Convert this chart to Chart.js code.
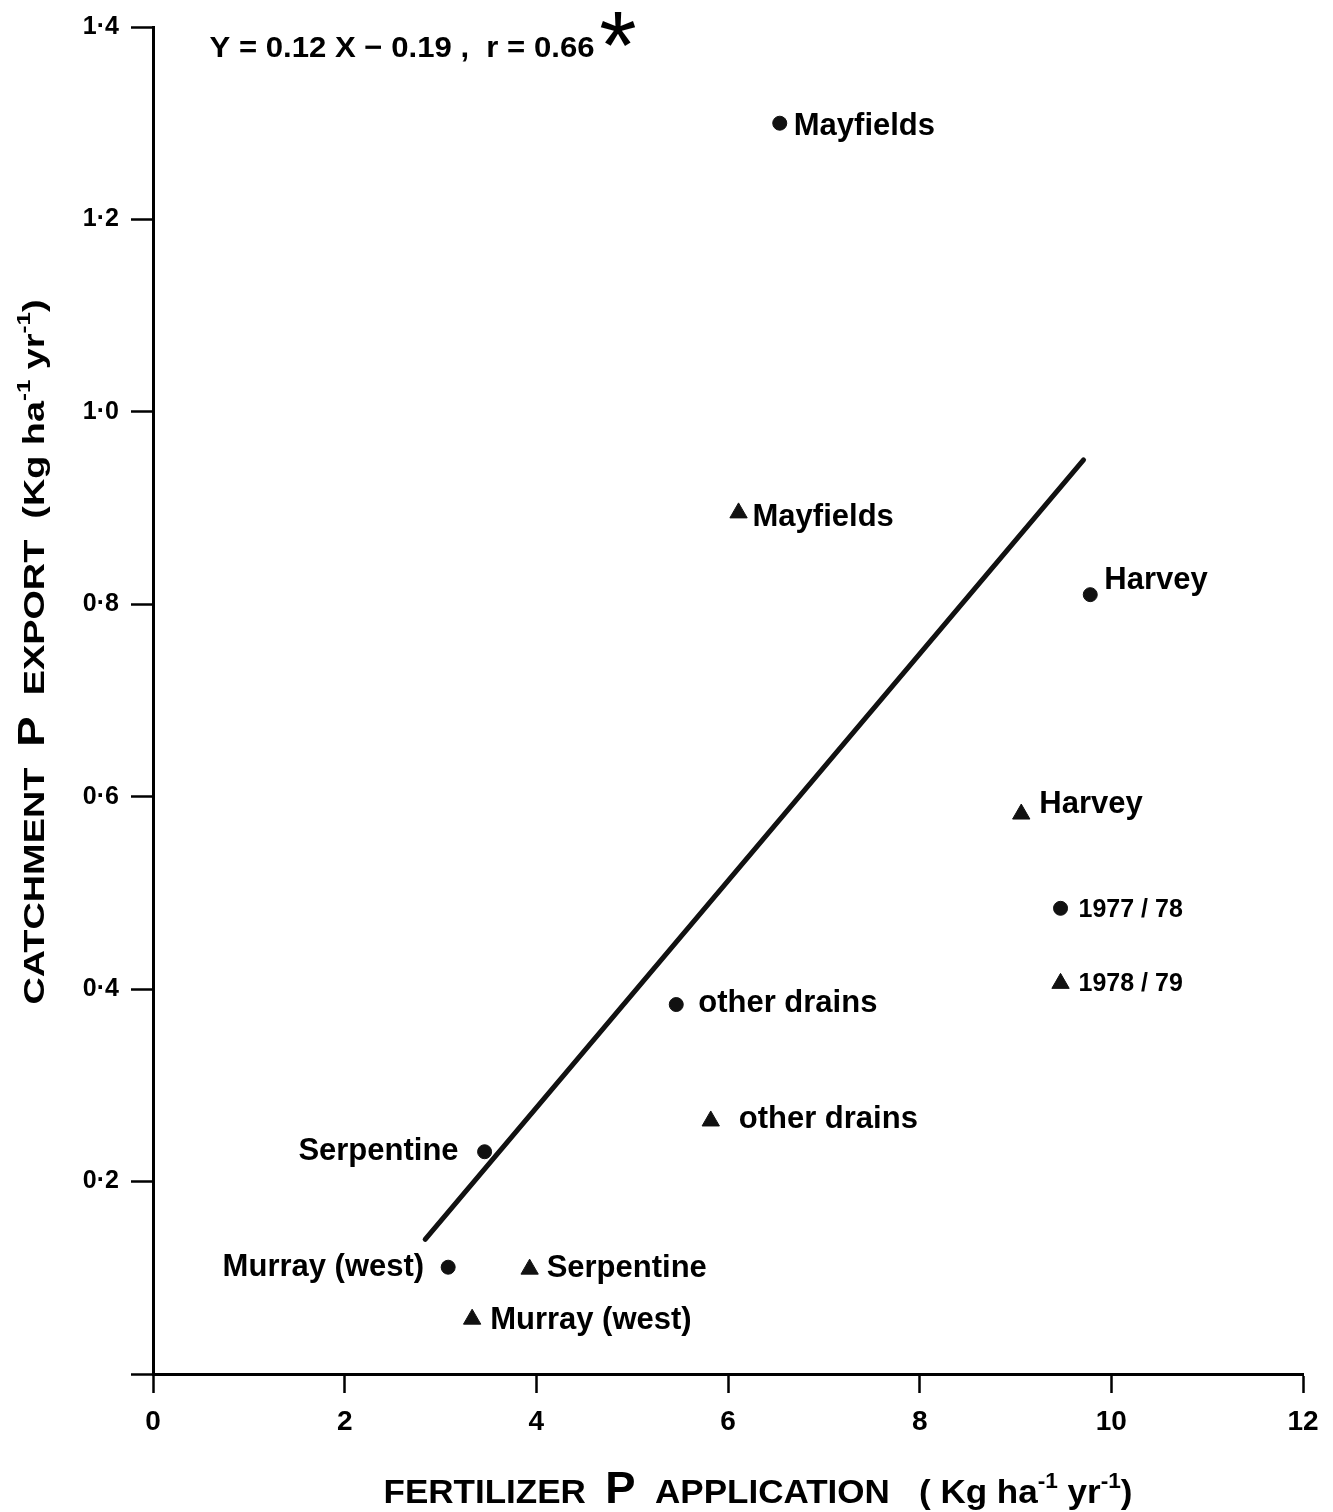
<!DOCTYPE html>
<html>
<head>
<meta charset="utf-8">
<script src="https://cdn.jsdelivr.net/npm/chart.js@4.4.1/dist/chart.umd.min.js"></script>
<style>
  html, body { margin: 0; padding: 0; background: #fff; }
  #wrap { width: 1333px; height: 1512px; position: relative; }
</style>
</head>
<body>
<div id="wrap"><canvas id="plot" width="1333" height="1512"></canvas></div>
<script>
// 1977/78 catchments (circles)
var circleNames = ['Mayfields', 'Harvey', '1977 / 78', 'other drains', 'Serpentine', 'Murray (west)']
var circleX = [6.54, 9.78, 9.47, 5.46, 3.46, 3.08]
var circleY = [1.30, 0.81, 0.484, 0.384, 0.231, 0.111]

// 1978/79 catchments (triangles)
var triNames = ['Mayfields', 'Harvey', '1978 / 79', 'other drains', 'Serpentine', 'Murray (west)']
var triX = [6.11, 9.06, 9.47, 5.82, 3.93, 3.33]
var triY = [0.895, 0.582, 0.406, 0.263, 0.109, 0.057]

// regression line ends as drawn
var fitX = [2.84, 9.71]
var fitY = [0.14, 0.95]

var xTicks = [0, 2, 4, 6, 8, 10, 12]
var yTicks = [0, 0.2, 0.4, 0.6, 0.8, 1.0, 1.2, 1.4]

// where each label sits relative to its marker [dx, dy, align, small]
var circleLabelPos = [[14, 3, 'left', false], [14, -14, 'left', false], [18, 2, 'left', true],
                      [22, -1, 'left', false], [-26, 0, 'right', false], [-24, 0, 'right', false]]
var triLabelPos = [[14, 5, 'left', false], [18, -10, 'left', false], [18, 1, 'left', true],
                   [28, -2, 'left', false], [17, -1, 'left', false], [18, 1, 'left', false]]

var SANS = '"Liberation Sans", Arial, sans-serif'
var BOLD = 'bold 31px ' + SANS
var SMALL = 'bold 25px ' + SANS

function pts(xs, ys) {
  var out = []
  for (var i = 0; i < xs.length; i++) out.push({x: xs[i], y: ys[i]})
  return out
}

// draws a run of text pieces (some raised or larger), squeezed or stretched to a given width
function drawFit(ctx, segs, cx, y, width) {
  var total = 0
  segs.forEach(function (s) { ctx.font = s.font; total += ctx.measureText(s.t).width })
  ctx.save()
  ctx.translate(cx - width / 2, y)
  ctx.scale(width / total, 1)
  var x = 0
  segs.forEach(function (s) {
    ctx.font = s.font
    ctx.fillText(s.t, x, s.dy || 0)
    x += ctx.measureText(s.t).width
  })
  ctx.restore()
}

var pointLabels = {
  id: 'pointLabels',
  afterDatasetsDraw: function (chart) {
    var ctx = chart.ctx
    ctx.save()
    ctx.fillStyle = '#000'
    ctx.textBaseline = 'middle'
    var sets = [[0, circleNames, circleLabelPos], [1, triNames, triLabelPos]]
    sets.forEach(function (s) {
      var meta = chart.getDatasetMeta(s[0])
      meta.data.forEach(function (el, i) {
        var p = s[2][i]
        ctx.font = p[3] ? SMALL : BOLD
        ctx.textAlign = p[2]
        ctx.fillText(s[1][i], el.x + p[0], el.y + p[1])
      })
    })
    ctx.restore()
  }
}

var titles = {
  id: 'titles',
  afterDraw: function (chart) {
    var ctx = chart.ctx
    ctx.save()
    ctx.fillStyle = '#000'
    ctx.textBaseline = 'alphabetic'
    ctx.textAlign = 'left'

    // x axis title (condensed look)
    var f = 'bold 34px ' + SANS
    var sup = 'bold 22px ' + SANS
    drawFit(ctx, [
      {t: 'FERTILIZER  ', font: f},
      {t: 'P', font: 'bold 44px ' + SANS},
      {t: '  APPLICATION   ( Kg ha', font: f},
      {t: '-1', font: sup, dy: -15},
      {t: ' yr', font: f},
      {t: '-1', font: sup, dy: -15},
      {t: ')', font: f}
    ], 758, 1503, 749)

    // y axis title, rotated
    ctx.save()
    ctx.translate(44, 652)
    ctx.rotate(-Math.PI / 2)
    var g = 'bold 30px ' + SANS
    var gs = 'bold 19px ' + SANS
    drawFit(ctx, [
      {t: 'CATCHMENT  ', font: g},
      {t: 'P', font: 'bold 36px ' + SANS},
      {t: '  EXPORT  (Kg ha', font: g},
      {t: '-1', font: gs, dy: -14},
      {t: ' yr', font: g},
      {t: '-1', font: gs, dy: -14},
      {t: ')', font: g}
    ], 0, 0, 705)
    ctx.restore()

    // regression equation
    drawFit(ctx, [{t: 'Y = 0.12 X \u2212 0.19 ,  r = 0.66', font: 'bold 30px ' + SANS}], 402, 57, 385)
    ctx.textAlign = 'center'
    ctx.font = '96px ' + SANS
    ctx.fillText('*', 618, 78)
    ctx.restore()
  }
}

new Chart(document.getElementById('plot'), {
  type: 'scatter',
  data: {
    datasets: [
      {
        label: '1977/78',
        data: pts(circleX, circleY),
        pointStyle: 'circle',
        pointRadius: 7,
        backgroundColor: '#111',
        borderColor: '#111',
        borderWidth: 1
      },
      {
        label: '1978/79',
        data: pts(triX, triY),
        pointStyle: 'triangle',
        pointRadius: 10,
        backgroundColor: '#111',
        borderColor: '#111',
        borderWidth: 1
      },
      {
        type: 'line',
        label: 'fit',
        data: pts(fitX, fitY),
        showLine: true,
        pointRadius: 0,
        borderColor: '#111',
        borderWidth: 5,
        borderCapStyle: 'round'
      }
    ]
  },
  options: {
    responsive: false,
    animation: false,
    devicePixelRatio: 1,
    layout: { padding: { top: 26, right: 30, left: 0, bottom: 0 } },
    plugins: { legend: { display: false }, tooltip: { enabled: false } },
    scales: {
      x: {
        type: 'linear',
        min: 0,
        max: 12,
        afterBuildTicks: function (s) { s.ticks = xTicks.map(function (v) { return {value: v} }) },
        afterFit: function (s) { s.height = 138 },
        border: { color: '#000', width: 3 },
        grid: { drawOnChartArea: false, drawTicks: true, tickLength: 19, tickWidth: 2.5, tickColor: '#000' },
        ticks: {
          color: '#000',
          padding: 12,
          maxRotation: 0,
          font: { family: SANS, size: 28, weight: 'bold' }
        }
      },
      y: {
        type: 'linear',
        min: 0,
        max: 1.4,
        afterBuildTicks: function (s) { s.ticks = yTicks.map(function (v) { return {value: v} }) },
        afterFit: function (s) { s.width = 153 },
        border: { color: '#000', width: 3 },
        grid: { drawOnChartArea: false, drawTicks: true, tickLength: 22, tickWidth: 2.5, tickColor: '#000' },
        ticks: {
          color: '#000',
          padding: 12,
          font: { family: SANS, size: 25, weight: 'bold' },
          callback: function (v) { return v === 0 ? '' : v.toFixed(1).replace('.', '\u00b7') }
        }
      }
    }
  },
  plugins: [pointLabels, titles]
})
</script>
</body>
</html>
